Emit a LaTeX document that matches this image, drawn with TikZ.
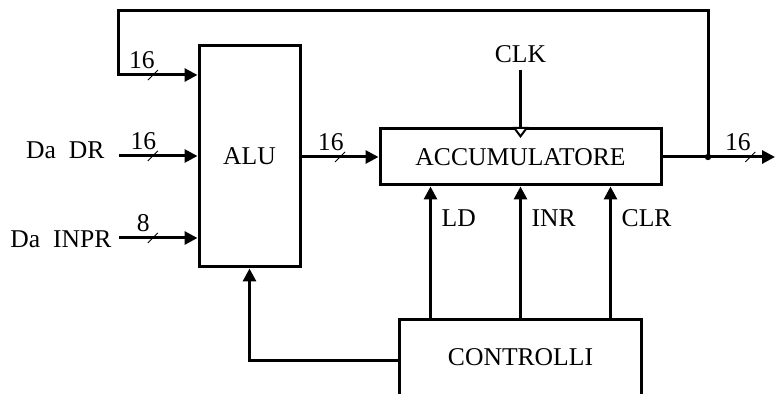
\documentclass[tikz,border=0pt]{standalone}
\usepackage{fontspec}
\setmainfont{Liberation Serif}
\usetikzlibrary{arrows.meta}

\tikzset{
  box/.style={draw, line width=1.5pt, inner sep=0pt},
  wire/.style={line width=1.5pt},
  sig/.style={line width=1.5pt, -{Triangle[length=6.5pt,width=6.5pt]}},
  busmark/.pic={\draw[line width=0.5pt, -] (-5,5) -- (5,-5);},
  buswidth/.style={above, inner sep=2.5pt},
}

\begin{document}
\begin{tikzpicture}[x=0.5pt, y=-0.5pt, every node/.style={font=\fontsize{12.8}{15}\selectfont}]
    \useasboundingbox (0,0) rectangle (775,394);
    % blocks
    \node[box, minimum width=50.5pt, minimum height=110.5pt] (alu) at (249.5,156.5) {ALU};
    \node[box, minimum width=140.5pt, minimum height=28pt] (acc) at (520.5,157) {ACCUMULATORE};
    \node[minimum width=120.5pt, minimum height=37pt, inner sep=0pt] (ctrl) at (520.5,357) {CONTROLLI};
    \draw[wire] (ctrl.south west) -- (ctrl.north west) -- (ctrl.north east) -- (ctrl.south east);
    % inputs
    \node[anchor=east] (dr) at (111.5,150) {Da\ \ DR};
    \node[anchor=east] (inpr) at (118.5,239) {Da\ \ INPR};
    \coordinate (drin) at (119,156);
    \coordinate (inprin) at (119,238);
    \coordinate (fbtop) at (118,11);
    \coordinate (fbin) at (118,75);
    \coordinate (tap) at (708,157);
    \coordinate (out) at (775,157);
    \draw[sig] (drin) -- pic[pos=.43]{busmark} node[buswidth, pos=.31] (bdr) {16} (drin -| alu.west);
    \draw[sig] (inprin) -- pic[pos=.43]{busmark} node[buswidth, pos=.31] (binpr) {8} (inprin -| alu.west);
    % feedback
    \draw[sig] (tap) |- (fbtop) -- (fbin) -- pic[pos=.44]{busmark} node[buswidth, pos=.3] (bfb) {16} (fbin -| alu.west);
    \fill (tap) circle (1.6pt);
    % data path
    \draw[sig] (alu.east |- acc.west) -- pic[pos=.5]{busmark} node[buswidth, pos=.38] (balu) {16} (acc.west);
    \draw[sig] (acc.east) -- pic[pos=.78]{busmark} node[buswidth, pos=.67] (bout) {16} (out);
    % clock
    \node (clk) at (520.5,54) {CLK};
    \draw[wire, -{Triangle[length=5.5pt, width=8pt, fill=white, line width=1pt]}, shorten >=-5.25pt] (clk.south) -- (acc.north);
    % control signals
    \draw[sig] ([xshift=-45pt]ctrl.north) -- node[pos=.76, right, xshift=1.5pt] (ld) {LD} ([xshift=-45pt]acc.south);
    \draw[sig] (ctrl.north) -- node[pos=.76, right, xshift=1.5pt] (inr) {INR} (acc.south);
    \draw[sig] ([xshift=45pt]ctrl.north) -- node[pos=.76, right, xshift=1.5pt] (clr) {CLR} ([xshift=45pt]acc.south);
    \draw[sig] ([yshift=-2pt]ctrl.west) -| (alu.south);
\end{tikzpicture}
\end{document}
